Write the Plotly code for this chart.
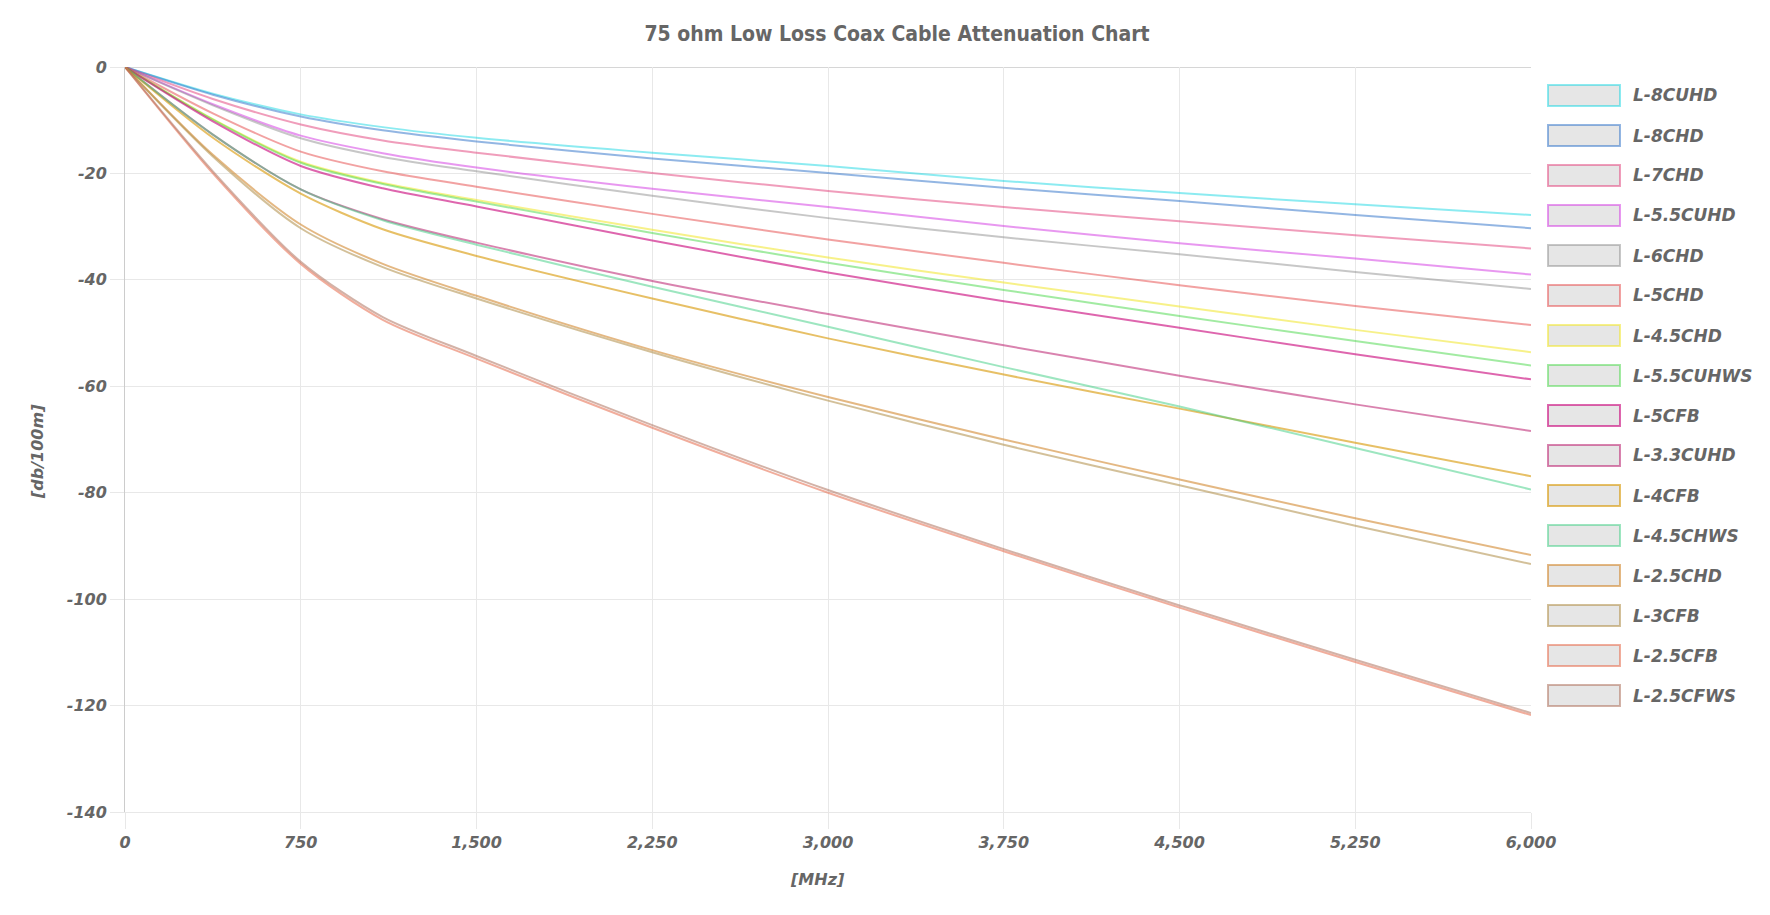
import plotly.graph_objects as go

# ---------------- data ----------------
freq_mhz = [0, 375, 750, 1100, 1500, 2250, 3000, 3750, 4500, 5250, 6000]

cable_names = ["L-8CUHD", "L-8CHD", "L-7CHD", "L-5.5CUHD", "L-6CHD", "L-5CHD",
               "L-4.5CHD", "L-5.5CUHWS", "L-5CFB", "L-3.3CUHD", "L-4CFB",
               "L-4.5CHWS", "L-2.5CHD", "L-3CFB", "L-2.5CFB", "L-2.5CFWS"]

att_l8cuhd = [0, -5.0, -8.9, -11.3, -13.3, -16.1, -18.6, -21.4, -23.7, -25.8, -27.8]
att_l8chd = [0, -5.2, -9.3, -11.9, -14.0, -17.2, -19.9, -22.7, -25.2, -27.8, -30.3]
att_l7chd = [0, -6.0, -10.8, -13.8, -16.1, -19.9, -23.3, -26.3, -29.0, -31.6, -34.1]
att_l55cuhd = [0, -7.0, -12.9, -16.2, -18.9, -22.9, -26.3, -29.9, -33.1, -36.0, -39.0]
att_l6chd = [0, -7.2, -13.4, -16.9, -19.6, -24.2, -28.4, -32.0, -35.2, -38.5, -41.7]
att_l5chd = [0, -8.7, -15.9, -19.6, -22.5, -27.6, -32.4, -36.8, -41.0, -44.9, -48.5]
att_l45chd = [0, -9.8, -17.8, -21.8, -25.0, -30.6, -35.8, -40.5, -45.0, -49.4, -53.6]
att_l55cuhws = [0, -9.9, -18.0, -22.0, -25.3, -31.2, -36.8, -41.9, -46.8, -51.5, -56.1]
att_l5cfb = [0, -10.2, -18.6, -22.8, -26.2, -32.6, -38.6, -44.0, -49.0, -54.0, -58.7]
att_l33cuhd = [0, -12.7, -23.0, -28.6, -33.0, -40.2, -46.4, -52.3, -58.0, -63.4, -68.4]
att_l4cfb = [0, -13.3, -23.8, -30.5, -35.5, -43.5, -51.0, -57.8, -64.2, -70.6, -76.9]
att_l45chws = [0, -12.7, -23.0, -28.8, -33.4, -41.3, -48.8, -56.4, -63.8, -71.6, -79.4]
att_l25chd = [0, -16.5, -29.6, -37.0, -43.0, -53.2, -62.0, -70.0, -77.5, -84.8, -91.7]
att_l3cfb = [0, -16.8, -30.3, -37.6, -43.5, -53.6, -62.7, -71.0, -78.6, -86.2, -93.4]
att_l25cfb = [0, -20.0, -37.0, -47.5, -54.8, -67.8, -80.0, -91.0, -101.6, -111.8, -121.8]
att_l25cfws = [0, -19.6, -36.6, -47.0, -54.3, -67.3, -79.5, -90.6, -101.2, -111.4, -121.4]

series_values = [att_l8cuhd, att_l8chd, att_l7chd, att_l55cuhd, att_l6chd, att_l5chd,
                 att_l45chd, att_l55cuhws, att_l5cfb, att_l33cuhd, att_l4cfb,
                 att_l45chws, att_l25chd, att_l3cfb, att_l25cfb, att_l25cfws]

series_colors = ["rgba(0,210,225,0.45)", "rgba(40,110,200,0.5)", "rgba(225,60,120,0.5)",
                 "rgba(210,50,225,0.5)", "rgba(130,130,130,0.45)", "rgba(230,70,70,0.5)",
                 "rgba(240,230,40,0.55)", "rgba(70,215,70,0.5)", "rgba(200,0,120,0.6)",
                 "rgba(185,30,110,0.55)", "rgba(215,150,0,0.6)", "rgba(60,205,130,0.5)",
                 "rgba(205,125,30,0.55)", "rgba(175,140,70,0.55)", "rgba(230,105,75,0.55)",
                 "rgba(175,115,95,0.55)"]

y_ticks = [0, -20, -40, -60, -80, -100, -120, -140]
y_tick_labels = ["0", "-20", "-40", "-60", "-80", "-100", "-120", "-140"]
x_ticks = [0, 750, 1500, 2250, 3000, 3750, 4500, 5250, 6000]

chart_title = "75 ohm Low Loss Coax Cable Attenuation Chart"
x_title = "[MHz]"
y_title = "[db/100m]"

# ---------------- layout geometry ----------------
W, H = 1770, 915
ML, MR, MT, MB = 125, 239, 67, 103
PW, PH = W - ML - MR, H - MT - MB


def px_x(px):
    return (px - ML) / PW


def px_y(py):
    return 1 - (py - MT) / PH


FONT = "DejaVu Sans"
GREY = "#666666"

fig = go.Figure()
for name, vals, col in zip(cable_names, series_values, series_colors):
    fig.add_trace(go.Scatter(x=freq_mhz, y=vals, name=name, mode="lines",
                             line=dict(color=col, width=2, shape="spline", smoothing=0.8),
                             showlegend=False))

# manual legend (box swatches like the original)
shapes = []
annotations = []
for i, (name, col) in enumerate(zip(cable_names, series_colors)):
    cy = 95.5 + 40 * i
    shapes.append(dict(type="rect", xref="paper", yref="paper",
                       x0=px_x(1548), x1=px_x(1620), y0=px_y(cy + 10.5), y1=px_y(cy - 10.5),
                       fillcolor="#e6e6e6", line=dict(color=col, width=2)))
    annotations.append(dict(xref="paper", yref="paper", x=px_x(1631), y=px_y(cy),
                            xanchor="left", yanchor="middle", showarrow=False, text=name,
                            font=dict(family=FONT, size=17, color=GREY, style="italic", weight="bold")))

annotations.append(dict(xref="paper", yref="paper", x=px_x(817), y=px_y(880),
                        xanchor="center", yanchor="middle", showarrow=False, text=x_title,
                        font=dict(family=FONT, size=16, color=GREY, style="italic", weight="bold")))
annotations.append(dict(xref="paper", yref="paper", x=px_x(37), y=px_y(452),
                        xanchor="center", yanchor="middle", showarrow=False, text=y_title,
                        textangle=-90,
                        font=dict(family=FONT, size=16, color=GREY, style="italic", weight="bold")))

fig.update_layout(
    width=W, height=H, autosize=False,
    margin=dict(l=ML, r=MR, t=MT, b=MB, pad=0),
    paper_bgcolor="white", plot_bgcolor="white",
    title=dict(text=chart_title, x=897 / W, xref="container", xanchor="center",
               y=1 - 34 / H, yref="container", yanchor="middle",
               font=dict(family="DejaVu Sans Condensed", size=21, color=GREY, weight="bold")),
    shapes=shapes, annotations=annotations, showlegend=False,
)
fig.update_xaxes(range=[0, 6000], tickvals=x_ticks, tickformat=",d",
                 showgrid=True, gridcolor="#e8e8e8", gridwidth=1,
                 zeroline=False, showline=True, linecolor="#e8e8e8", mirror=False,
                 ticks="outside", ticklen=16, tickcolor="#e8e8e8",
                 tickfont=dict(family=FONT, size=16, color=GREY, style="italic", weight="bold"))
fig.update_yaxes(range=[-140, 0], tickvals=y_ticks, ticktext=y_tick_labels,
                 showgrid=True, gridcolor="#e8e8e8", gridwidth=1,
                 zeroline=False, showline=True, linecolor="#cccccc",
                 ticks="outside", ticklen=14, tickcolor="#e8e8e8",
                 tickfont=dict(family=FONT, size=16, color=GREY, style="italic", weight="bold"))
# darker top border at 0 dB
fig.add_shape(type="line", xref="paper", yref="y", x0=0, x1=1, y0=0, y1=0,
              line=dict(color="#c8c8c8", width=1.5), layer="below")

fig.write_html("out.html", config={"displayModeBar": False},
               post_script="document.body.style.margin='0';")
